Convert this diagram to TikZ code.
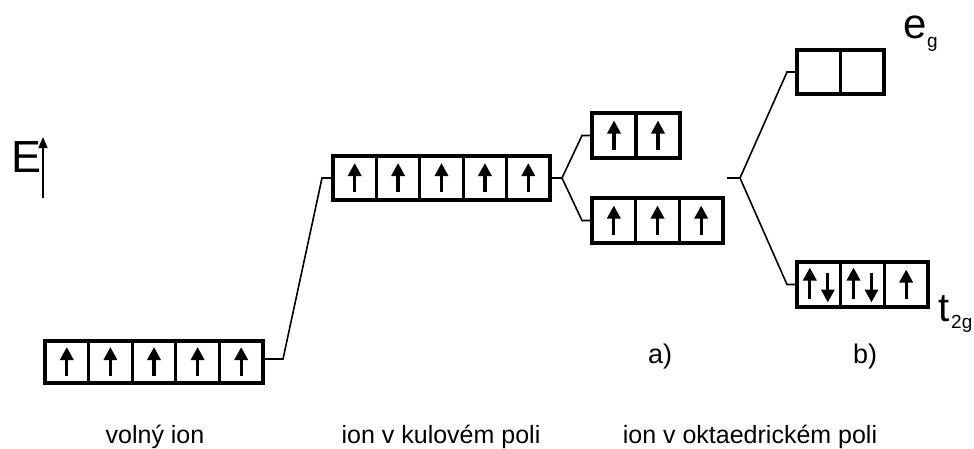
\documentclass[tikz,border=0pt]{standalone}
\usepackage{fontspec}
\setmainfont{Liberation Sans}
\usetikzlibrary{arrows.meta,calc}
\newcommand{\fs}[1]{\fontsize{#1}{#1}\selectfont}
\tikzset{
  x=1pt, y=-1pt,
  level/.style={draw, line width=3.2pt, rectangle, inner sep=0pt, outer sep=0pt,
    minimum height=44pt, line join=miter},
  wire/.style={line width=1.6pt, line join=miter},
  spin/.style={line width=3.3pt, -{Triangle[width=13pt,length=13pt]}},
  lbl/.style={anchor=base, inner sep=0pt},
}
% draw the cell dividers and spins of a level
% #1 node name, #2 number of cells, #3 list of cell contents (u = up, d = pair)
\newcommand{\cells}[3]{%
  \foreach \k in {1,...,#2}{%
    \ifnum\k<#2
      \draw[line width=3.2pt] ($(#1.north west)!{\k/#2}!(#1.north east)$) -- ($(#1.south west)!{\k/#2}!(#1.south east)$);
    \fi
  }%
  \foreach \k/\s in {#3}{%
    \coordinate (#1-c\k) at ($(#1.west)!{(\k-0.5)/#2}!(#1.east)$);
    \if\s u
      \draw[spin] ($(#1-c\k)+(0,14)$) -- ($(#1-c\k)+(0,-15)$);
    \fi
    \if\s d
      \draw[spin] ($(#1-c\k)+(-9,14)$) -- ($(#1-c\k)+(-9,-17)$);
      \draw[spin] ($(#1-c\k)+(9,-12)$) -- ($(#1-c\k)+(9,18)$);
    \fi
  }%
}
\begin{document}
\begin{tikzpicture}
\useasboundingbox (0,0) rectangle (974,448);

% energy axis
\node[lbl, anchor=base west] (E) at (11,172) {\fs{45}E};
\coordinate (Ebot) at (43,198);
\coordinate (Etop) at (43,137);
\draw[line width=1.7pt, -{Triangle[width=9pt,length=11pt]}] (Ebot) -- (Etop);

% levels
\node[level, minimum width=218pt, minimum height=42pt] (free) at (154,362) {};
\node[level, minimum width=217pt] (sph) at (441.5,178) {};
\node[level, minimum width=88pt, minimum height=45pt] (aup) at (636,135.5) {};
\node[level, minimum width=131pt, minimum height=45pt] (alo) at (657.5,220.5) {};
\node[level, minimum width=87pt] (eg) at (840.5,72) {};
\node[level, minimum width=131pt, minimum height=45pt] (tg) at (862.5,284.5) {};

\cells{free}{5}{1/u,2/u,3/u,4/u,5/u}
\cells{sph}{5}{1/u,2/u,3/u,4/u,5/u}
\cells{aup}{2}{1/u,2/u}
\cells{alo}{3}{1/u,2/u,3/u}
\cells{eg}{2}{1/n,2/n}
\cells{tg}{3}{1/d,2/d,3/u}

% correlation lines
\coordinate (f1) at (283,359);
\coordinate (s1) at (322,178);
\draw[wire] (free.east |- f1) -- (f1) -- (s1) -- (sph.west);

\coordinate (v) at (562,178);
\coordinate (au) at (582,135.5);
\coordinate (al) at (582,220.5);
\draw[wire] (sph.east) -- (v) -- (au) -- (aup.west);
\draw[wire] (v) -- (al) -- (alo.west);

\coordinate (w0) at (727,178);
\coordinate (w) at (740,178);
\coordinate (eu) at (787,72);
\coordinate (tl) at (787,284.5);
\draw[wire] (w0) -- (w);
\draw[wire] (w) -- (eu) -- (eg.west);
\draw[wire] (w) -- (tl) -- (tg.west);

% term symbols
\node[lbl, anchor=base west] (egl) at (903,38) {\fs{42}e};
\node[lbl, anchor=base west] (egs) at (927,47) {\fs{19}g};
\node[lbl, anchor=base west] (tgl) at (938,321) {\fs{40}t};
\node[lbl, anchor=base west] (tgs) at (951,328) {\fs{19}2g};

% case labels
\node[lbl] (la) at (660,363) {\fs{27}a)};
\node[lbl] (lb) at (865,363) {\fs{27}b)};

% captions
\node[lbl] (c1) at (155,443) {\fs{25}volný ion};
\node[lbl] (c2) at (441,443) {\fs{25}ion v kulovém poli};
\node[lbl] (c3) at (750,443) {\fs{25}ion v oktaedrickém poli};
\end{tikzpicture}
\end{document}
